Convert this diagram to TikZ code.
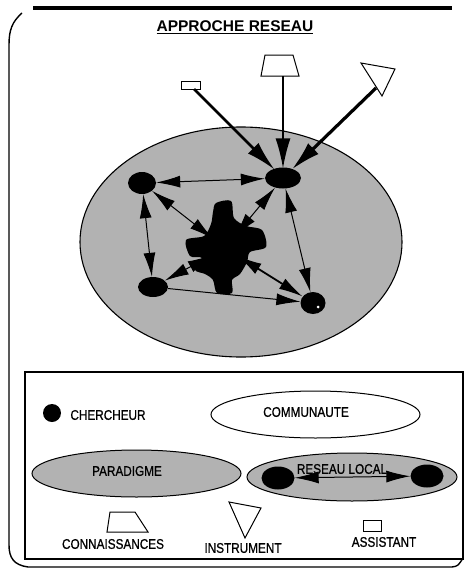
\documentclass[tikz,border=0pt]{standalone}
\usepackage{fontspec}
\usepackage{graphicx}
\setmainfont{Liberation Sans}
\newfontfamily\labfont{Liberation Sans}[FakeBold=0.8]
\usetikzlibrary{arrows.meta,shapes.geometric}
\newcommand\narr[1]{\scalebox{0.84}[1]{#1}}
\tikzset{
  grayfill/.style={fill=black!30},
  agent/.style={ellipse, fill=black, inner sep=0pt},
  lab/.style={font=\labfont\fontsize{14}{16}\selectfont, inner sep=0pt},
  tipA/.tip={Latex[length=24pt,width=12pt]},
  tipB/.tip={Latex[length=30pt,width=15pt]},
  link/.style={line width=1pt, tipA-tipA},
  feed/.style={tipB-, shorten <=-1pt},
  outline/.style={draw, line width=1pt, fill=white},
}
\begin{document}
\begin{tikzpicture}[x=1pt,y=-1pt]
\useasboundingbox (0,0) rectangle (465,570);
\fill[white] (0,0) rectangle (465,570);
% frame
\draw[line width=3.5pt] (33,8) -- (452,8);
\draw[line width=1.4pt] (22,13) .. controls (12,22) and (9,30) .. (9,45) -- (9,545)
   .. controls (9,558) and (14,565) .. (28,567) -- (452,567) .. controls (458,566) .. (463,558);
% title
\node[font=\bfseries\fontsize{15.5}{17}\selectfont, inner sep=0pt] (title) at (235,27) {\underline{APPROCHE RESEAU}};
% big ellipse
\node[ellipse, draw, line width=1.1pt, grayfill, minimum width=322pt, minimum height=230pt] (net) at (241,242) {};
% central blob
\fill[black] plot[smooth cycle, tension=0.5] coordinates {
 (216,203) (231,201) (234,218) (246,226) (262,230) (266,247) (250,252)
 (247,262) (240,274) (232,280) (232,293) (217,293) (213,280) (205,274)
 (195,270) (202,258) (190,256) (186,240) (204,236) (211,224) (213,212)};
\node[circle, minimum size=30pt, inner sep=0pt] (C) at (225,248) {};
% researchers
\node[agent, minimum width=28pt, minimum height=22pt] (N1) at (142,183) {};
\node[agent, minimum width=36pt, minimum height=21pt] (N2) at (283,178) {};
\node[agent, minimum width=30pt, minimum height=20pt] (N3) at (153,287) {};
\node[agent, minimum width=25pt, minimum height=22pt] (N4) at (313,303) {};
\fill[white] (318,307) circle (1.5pt);
% outside shapes
\draw[outline] (181,81) rectangle (200,89);
\coordinate (As) at (194,89);
\draw[outline] (265,55) -- (293,55) -- (299,76) -- (261,76) -- cycle;
\coordinate (Kn) at (283,76);
\draw[outline] (361,63) -- (395,69) -- (382,96) -- cycle;
\coordinate (In) at (376,88);
% links to N2
\draw[feed, line width=2.6pt] (N2) -- (As);
\draw[feed, line width=1.5pt] (N2) -- (Kn);
\draw[feed, line width=3.2pt] (N2) -- (In);
% network links
\draw[link] (N1) -- (N2);
\draw[link] (N1) -- (N3);
\draw[link] (N1) -- (C);
\draw[link] (N2) -- (C);
\draw[link] (N2) -- (N4);
\draw[link] (N3) -- (C);
\draw[line width=1pt, -tipA] (N3) -- (N4);
\draw[link, line width=1.8pt] (C) -- (N4);
% legend
\draw[line width=1.2pt] (25,372) rectangle (463,559);
\node[circle, fill=black, minimum size=18pt, inner sep=0pt] (Lc) at (52,413) {};
\node[lab] (Lct) at (108,415) {\narr{CHERCHEUR}};
\node[ellipse, draw, line width=1pt, fill=white, minimum width=209pt, minimum height=47pt] (Lcom) at (315.5,414.5) {};
\node[lab] (Lcomt) at (306,412) {\narr{COMMUNAUTE}};
\node[ellipse, draw, line width=1pt, grayfill, minimum width=209pt, minimum height=47pt] (Lpar) at (136.5,473.5) {};
\node[lab] (Lpart) at (127,471) {\narr{PARADIGME}};
\node[ellipse, draw, line width=1pt, grayfill, minimum width=210pt, minimum height=48pt] (Lres) at (352,477) {};
\node[lab] (Lrest) at (342,469) {\narr{RESEAU LOCAL}};
\node[agent, minimum width=33pt, minimum height=23pt] (R1) at (278,478) {};
\node[agent, minimum width=33pt, minimum height=23pt] (R2) at (427,476) {};
\draw[link] (R1) -- (R2);
\draw[line width=1pt] (110,512) -- (135,512) -- (148,532) -- (107,532) -- cycle;
\node[lab] (Lkn) at (113,544) {\narr{CONNAISSANCES}};
\draw[line width=1pt] (229,502) -- (261,508) -- (245,538) -- cycle;
\node[lab] (Lin) at (243,548) {\narr{INSTRUMENT}};
\draw[line width=1pt] (363,520) rectangle (381,531);
\node[lab] (Las) at (384,542) {\narr{ASSISTANT}};
\end{tikzpicture}
\end{document}
